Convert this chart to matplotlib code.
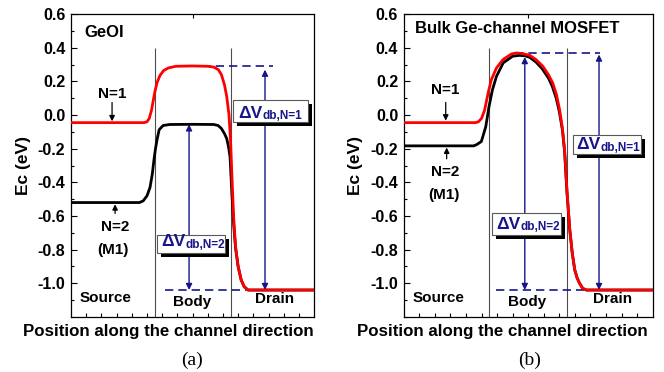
import matplotlib
matplotlib.use('Agg')
import matplotlib.pyplot as plt
import matplotlib.transforms as mtransforms
from matplotlib.patches import Rectangle
from matplotlib.ticker import MultipleLocator, FixedLocator

plt.rcParams['font.family'] = ['Liberation Sans', 'DejaVu Sans']
plt.rcParams['font.weight'] = 'bold'
plt.rcParams['axes.labelweight'] = 'bold'
plt.rcParams['axes.unicode_minus'] = False

# position along the channel (arbitrary units, 0..160), Ec in eV
# (a) GeOI
geoi_x_n1 = [0, 48, 50, 51.5, 53, 54, 55, 56.5, 58.5, 61, 64, 69, 80, 90, 94, 97, 99, 101,
             102.5, 104, 105, 106, 107, 108.3, 110, 112, 114, 116.5, 160]
geoi_ec_n1 = [-0.045, -0.045, -0.04, -0.02, 0.03, 0.08, 0.13, 0.19, 0.235, 0.265, 0.28, 0.29,
              0.292, 0.29, 0.285, 0.27, 0.24, 0.18, 0.11, 0.0, -0.15, -0.38, -0.6, -0.78, -0.9,
              -0.98, -1.02, -1.04, -1.04]
geoi_x_n2 = [0, 45, 47.5, 50, 52, 53.5, 54.6, 55.6, 56.6, 58, 60.6, 65, 80, 94, 96.8, 99, 101,
             102.5, 103.7, 104.7, 105.8, 107, 108.3, 110, 112, 114, 116.5, 160]
geoi_ec_n2 = [-0.52, -0.52, -0.51, -0.48, -0.43, -0.35, -0.265, -0.2, -0.147, -0.087, -0.062,
              -0.056, -0.055, -0.056, -0.062, -0.08, -0.11, -0.14, -0.19, -0.25, -0.45, -0.64,
              -0.79, -0.9, -0.98, -1.02, -1.04, -1.04]

# (b) bulk Ge-channel MOSFET
bulk_x_n1 = [0, 46, 48, 50, 52, 54.2, 56.3, 59.6, 63.8, 69.2, 72.4, 76, 81, 85, 89.4, 93, 95.8,
             98.2, 100.2, 102, 103.4, 104.9, 106.7, 108.3, 109.9, 111.5, 113, 115, 117.4, 160]
bulk_ec_n1 = [-0.045, -0.045, -0.04, -0.02, 0.03, 0.13, 0.21, 0.28, 0.33, 0.363, 0.369, 0.366,
              0.355, 0.33, 0.29, 0.24, 0.19, 0.12, 0.03, -0.08, -0.21, -0.45, -0.68, -0.82,
              -0.92, -0.97, -1.0, -1.03, -1.04, -1.04]
bulk_x_n2 = [0, 45, 47, 49.9, 52.7, 54.8, 57, 59.6, 63.9, 70, 74.5, 78, 81, 85, 89, 93, 95.5,
             98, 100, 102, 103.4, 104.9, 106.7, 108.3, 109.9, 111.5, 113, 115, 117.4, 160]
bulk_ec_n2 = [-0.183, -0.183, -0.175, -0.157, -0.07, 0.05, 0.15, 0.23, 0.31, 0.35, 0.355,
              0.352, 0.343, 0.315, 0.275, 0.22, 0.17, 0.1, 0.02, -0.09, -0.22, -0.46, -0.68,
              -0.82, -0.92, -0.97, -1.0, -1.03, -1.04, -1.04]

region_edges = [55, 105]
drain_level = -1.04
geoi_barrier = [0.29, -0.055]     # N=1, N=2
bulk_barrier = [0.37, 0.345]

navy = '#16168a'


def dv_box(fig, ax, x0, y0, w, h, tx, ty, sub):
    shadow = mtransforms.offset_copy(ax.transData, fig=fig, x=4, y=-4, units='dots')
    ax.add_patch(Rectangle((x0, y0), w, h, fc='k', ec='none', transform=shadow, zorder=5))
    ax.add_patch(Rectangle((x0, y0), w, h, fc='white', ec='0.35', lw=0.8, zorder=6))
    t = ax.text(tx, ty, '\u0394V', fontsize=12.5, color=navy, va='baseline', zorder=7)
    ax.annotate(sub, xy=(1, 0), xycoords=t, xytext=(0, -1), textcoords='offset points',
                fontsize=8.5, color=navy, va='bottom', ha='left', zorder=7)


def setup(ax, xlab_x):
    ax.set_xlim(0, 160)
    ax.set_ylim(-1.2, 0.6)
    ax.yaxis.set_major_locator(FixedLocator([-1.0, -0.8, -0.6, -0.4, -0.2, 0.0, 0.2, 0.4, 0.6]))
    ax.yaxis.set_minor_locator(MultipleLocator(0.1))
    ax.xaxis.set_major_locator(FixedLocator([80]))
    ax.xaxis.set_minor_locator(FixedLocator(range(10, 160, 10)))
    ax.tick_params(axis='y', which='both', direction='in', right=False, labelsize=11.5, pad=4)
    ax.tick_params(axis='y', which='major', length=4, width=0.8)
    ax.tick_params(axis='y', which='minor', length=2.5, width=0.8)
    ax.tick_params(axis='x', which='major', direction='in', top=True, bottom=True,
                   labelbottom=False, length=3, width=0.8)
    ax.tick_params(axis='x', which='minor', direction='in', top=False, bottom=True,
                   length=3, width=0.8)
    for s in ax.spines.values():
        s.set_linewidth(0.9)
    for xe in region_edges:
        ax.vlines(xe, -1.2, 0.4, color='0.3', lw=0.8)
    ax.set_xlabel('Position along the channel direction', fontsize=12.2)
    ax.xaxis.set_label_coords(xlab_x, -0.024)
    ax.set_ylabel('Ec (eV)', fontsize=12.5, labelpad=5)
    ax.text(22.4, -1.085, 'Source', fontsize=11, ha='center', va='center')
    ax.text(79.5, -1.112, 'Body', fontsize=11, ha='center', va='center')
    ax.text(134, -1.095, 'Drain', fontsize=11, ha='center', va='center')


fig = plt.figure(figsize=(6.64, 3.72), dpi=100)
ax1 = fig.add_axes([0.107, 0.148, 0.366, 0.814])
ax2 = fig.add_axes([0.608, 0.148, 0.375, 0.814])

small_arrow = dict(arrowstyle='-|>', color='k', lw=0.9, mutation_scale=8, shrinkA=0, shrinkB=0)
dv_arrow = dict(arrowstyle='<|-|>', color=navy, lw=1, mutation_scale=9, shrinkA=0, shrinkB=0)

# ---- (a) GeOI
setup(ax1, 0.40)
ax1.plot(geoi_x_n2, geoi_ec_n2, color='k', lw=2, zorder=3)
ax1.plot(geoi_x_n1, geoi_ec_n1, color='red', lw=2, zorder=3)
ax1.text(9, 0.49, 'GeOI', fontsize=12, ha='left', va='center')
ax1.text(27, 0.125, 'N=1', fontsize=11, ha='center', va='center')
ax1.annotate('', xy=(27, geoi_ec_n1[0] + 0.008), xytext=(27, 0.075), arrowprops=small_arrow)
ax1.text(29, -0.665, 'N=2', fontsize=11, ha='center', va='center')
ax1.text(27.5, -0.8, '(M1)', fontsize=11, ha='center', va='center')
ax1.annotate('', xy=(29, geoi_ec_n2[0] - 0.01), xytext=(29, -0.585), arrowprops=small_arrow)
ax1.plot([77.7, 133], [geoi_barrier[0]] * 2, color=navy, lw=1.2, ls=(0, (5, 3)), zorder=2)
ax1.plot([62, 115], [drain_level] * 2, color=navy, lw=1.2, ls=(0, (5, 3)), zorder=2)
for xa, top in [(127.7, geoi_barrier[0] - 0.02), (77.7, geoi_barrier[1])]:
    ax1.annotate('', xy=(xa, top), xytext=(xa, drain_level), arrowprops=dv_arrow, zorder=2)
dv_box(fig, ax1, 106.7, -0.041, 49.2, 0.132, 110, -0.018, 'db,N=1')
dv_box(fig, ax1, 56.4, -0.819, 45, 0.107, 59.5, -0.78, 'db,N=2')

# ---- (b) bulk Ge-channel MOSFET
setup(ax2, 0.394)
ax2.plot(bulk_x_n2, bulk_ec_n2, color='k', lw=2, zorder=3)
ax2.plot(bulk_x_n1, bulk_ec_n1, color='red', lw=2, zorder=3)
ax2.text(7.5, 0.515, 'Bulk Ge-channel MOSFET', fontsize=12, ha='left', va='center')
ax2.text(26.5, 0.15, 'N=1', fontsize=11, ha='center', va='center')
ax2.annotate('', xy=(27, bulk_ec_n1[0] + 0.012), xytext=(27, 0.075), arrowprops=small_arrow)
ax2.text(26.5, -0.34, 'N=2', fontsize=11, ha='center', va='center')
ax2.text(26, -0.475, '(M1)', fontsize=11, ha='center', va='center')
ax2.annotate('', xy=(27.6, bulk_ec_n2[0] - 0.01), xytext=(27.6, -0.26), arrowprops=small_arrow)
ax2.plot([71.3, 126], [bulk_barrier[0]] * 2, color=navy, lw=1.2, ls=(0, (5, 3)), zorder=2)
ax2.plot([59.6, 116], [drain_level] * 2, color=navy, lw=1.2, ls=(0, (5, 3)), zorder=2)
for xa, top in [(125.5, bulk_barrier[0] - 0.01), (77.8, bulk_barrier[1])]:
    ax2.annotate('', xy=(xa, top), xytext=(xa, drain_level), arrowprops=dv_arrow, zorder=2)
dv_box(fig, ax2, 108.8, -0.23, 43.9, 0.113, 111, -0.203, 'db,N=1')
dv_box(fig, ax2, 57, -0.712, 44.3, 0.129, 59.6, -0.675, 'db,N=2')

fig.text(0.289, 0.032, '(a)', fontsize=14, fontweight='normal',
         family='Liberation Serif', ha='center', va='center')
fig.text(0.798, 0.032, '(b)', fontsize=14, fontweight='normal',
         family='Liberation Serif', ha='center', va='center')

fig.savefig('out.png', dpi=100)
